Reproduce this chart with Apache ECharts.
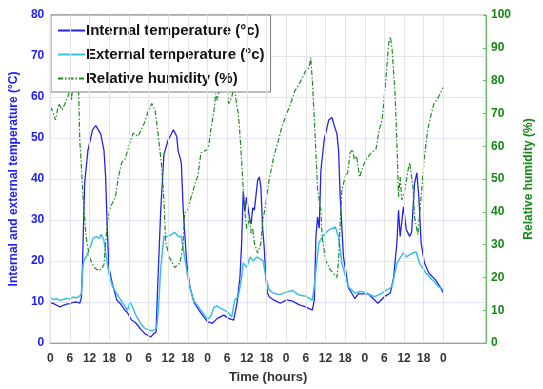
<!DOCTYPE html>
<html>
<head>
<meta charset="utf-8">
<script src="https://cdn.jsdelivr.net/npm/echarts@6/dist/echarts.min.js"></script>
<style>
  html, body { margin: 0; padding: 0; background: #fff; }
  #chart { width: 543px; height: 389px; }
</style>
</head>
<body>
<div id="chart"></div>
<script>
// [hour, value] pairs
var internalTemp = [
  [0, 9.8], [1, 9.6], [2, 9.2], [3, 8.8], [4, 9.2], [5, 9.5], [6, 9.6], [7, 9.9], [8, 10], [9, 9.7],
  [9.5, 11], [9.8, 18], [10.5, 39], [11.5, 47], [12.9, 52], [13.9, 53], [15.4, 51], [16.4, 47],
  [16.9, 40.5], [17.4, 28], [17.9, 18.5], [18.9, 14.6], [20.3, 10.5], [21.5, 9.5], [22.8, 8],
  [23.5, 7.5], [24.8, 5.6], [26, 5], [27.8, 3.2], [29, 2.2], [30.7, 1.5], [31.5, 2.2], [32.3, 2.7],
  [32.7, 12], [33.7, 32], [34.7, 46], [36, 49.5], [37.6, 52], [38.6, 50.4], [39, 47], [40, 44],
  [40.6, 32.4], [41.6, 20], [42.6, 13.7], [44, 9.7], [46, 7.3], [48, 5.2], [49.5, 4.8], [51, 6],
  [53, 6.8], [54.4, 6], [56, 5.6], [57, 9.7], [57.9, 16], [58.4, 24], [58.9, 37], [59.4, 32],
  [59.9, 35.6], [60.9, 30], [61.3, 29], [61.8, 33], [62.3, 32.4], [63.3, 39.7], [63.8, 40.5],
  [64.3, 38], [64.8, 28.3], [65.3, 23.4], [65.8, 16], [66.3, 12.2], [66.8, 11.3], [68.2, 10.5],
  [70.2, 9.7], [72.2, 10.5], [74, 10.2], [76, 9.3], [78, 8.8], [80, 8], [80.6, 10.5], [81.1, 26],
  [81.6, 30.7], [82.1, 28], [82.6, 42], [83.6, 49.5], [85, 54.4], [86, 55], [86.7, 53], [87.5, 51],
  [88, 47], [88.5, 35.6], [89.5, 21], [91, 13.5], [92, 12.2], [93, 10.8], [94, 12], [95, 12],
  [97, 12], [99, 10.5], [100, 9.7], [101, 10.5], [102, 11.3], [103.8, 12.2], [104.8, 16],
  [105.8, 24.4], [106.3, 32.4], [106.8, 26], [107.8, 33.2], [108.7, 27.6], [109.7, 26], [110.3, 27],
  [111.2, 39], [111.9, 41.5], [112.5, 35.6], [113.2, 24.4], [114.2, 19.5], [115.6, 17],
  [117.6, 15.4], [119, 13.7], [120, 12.2]
]
var externalTemp = [
  [0, 11], [1, 10.6], [2, 10.8], [3, 10.4], [4, 10.6], [5, 10.9], [6, 10.7], [7, 11.2], [8, 11],
  [9, 11.5], [9.5, 12], [10, 19], [10.5, 20.5], [11, 21], [11.5, 22], [12.5, 24], [13, 25.5],
  [14, 26], [15, 25.5], [15.5, 26.5], [16.4, 25], [16.9, 22], [17.9, 17], [18.9, 14], [20.3, 12],
  [21.5, 10.5], [22.8, 9], [23.6, 8], [24.3, 10], [25, 9], [26, 7], [27.8, 4.5], [29, 3.5],
  [30.7, 3], [32, 3.2], [32.5, 4], [33, 8], [33.7, 18], [34.7, 26], [36, 26], [38, 27], [39, 26],
  [40, 26], [41, 21], [42, 16], [43.6, 10.5], [46, 8], [48, 5.8], [49, 6.5], [50, 8.8], [51, 9],
  [52, 8.5], [54, 7.6], [55.4, 6.4], [56.3, 10.5], [57.4, 11.3], [58.4, 16], [58.9, 19.5],
  [60, 18.5], [61, 21], [62, 20], [63, 21], [64, 20.5], [65, 20], [65.8, 16], [66.8, 13],
  [68, 12.2], [70, 11.8], [72, 12.4], [74, 12.8], [76, 11.7], [78, 11.4], [80, 10.4], [80.6, 14],
  [81.1, 17.8], [82, 24.4], [83, 25.8], [85, 27.6], [87, 28.3], [88, 26], [89, 19.5], [91, 13.7],
  [93, 12.2], [95, 12.6], [97, 12], [98.9, 11.3], [101, 12], [102.8, 13], [104.3, 13.7],
  [105.8, 19.5], [106.5, 20.4], [107.8, 22], [108.7, 21], [109.7, 21.5], [110.7, 22], [111.7, 22.2],
  [112.7, 19.5], [114.7, 17], [116.6, 15.4], [118.6, 13.7], [120, 13]
]
var humidity = [
  [0, 72], [0.6, 71], [1.6, 68], [2.6, 73], [3.6, 71], [4.5, 73], [5.5, 75.5], [6, 77], [6.5, 74],
  [7, 81], [7.6, 84], [8.2, 83], [8.7, 75.5], [9, 62], [9.5, 54], [10, 44.5], [11, 32], [12, 26],
  [13.4, 23], [14.9, 22], [15.9, 23], [16.4, 24], [16.9, 30.5], [17.4, 36.6], [18.4, 41.5],
  [19.9, 44.5], [20.8, 50.6], [21.8, 55], [22.8, 56], [24.3, 61], [25.3, 64], [26.8, 63],
  [27.8, 65], [28.7, 67], [30, 71], [31, 73], [32, 71], [33, 63], [34, 54], [34.7, 43.6],
  [35.2, 31], [36.4, 26], [37, 25], [38, 23], [39.6, 24.4], [40.6, 30.5], [41, 39.6], [42, 40.5],
  [43, 44.5], [44.5, 49.7], [45, 50.6], [46, 58], [47, 58.5], [48, 59], [48.5, 61], [49, 65],
  [50, 71], [50.5, 76], [51, 74], [51.5, 77], [52.5, 81], [53.5, 80], [54, 77], [54.5, 73],
  [55.4, 75], [56, 78], [56.3, 77], [57, 72], [57.4, 70], [57.8, 65], [58.4, 56], [58.9, 47],
  [59.4, 40], [60, 34.5], [60.8, 38.4], [61.3, 33.5], [61.8, 35], [62.3, 30.5], [63.3, 27.4],
  [64.3, 30.5], [64.8, 36.6], [65.8, 42.7], [66.8, 49.7], [68.2, 56.7], [69.7, 62], [70.7, 66],
  [72.2, 70], [73, 72], [74.7, 77], [75.5, 78], [77, 81], [78, 83], [79, 84], [79.5, 87], [80, 80],
  [81, 60], [81.6, 46.6], [82.6, 40.5], [83, 32.4], [84, 25.3], [85.5, 22.3], [87.5, 20], [88, 25],
  [88.5, 36.6], [89, 46.6], [90, 50.6], [90.8, 52], [91.5, 58], [92.3, 59], [92.8, 56], [93.5, 57],
  [94.4, 50.6], [95.4, 53.7], [96.4, 56], [98, 58], [99.4, 59], [100.4, 65], [101.3, 68],
  [102.3, 79], [103.3, 91.5], [103.8, 93.3], [104.3, 90], [105.3, 75], [106, 55], [106.3, 44.5],
  [106.8, 50.6], [107.3, 43.6], [108.2, 46.6], [109.2, 52.7], [109.7, 55], [110.7, 47.6],
  [111.2, 38.4], [112.2, 33], [113.2, 44.5], [114.2, 56.7], [115.2, 65], [116.1, 69], [117.1, 73],
  [118, 74], [119, 76], [120, 78]
]
var hourTicks = [0, 6, 12, 18, 24, 30, 36, 42, 48, 54, 60, 66, 72, 78, 84, 90, 96, 102, 108, 114, 120]
var seriesNames = ['Internal temperature (°c)', 'External temperature (°c)', 'Relative humidity (%)']

var FONT = 'Liberation Sans, Arial, sans-serif'
var chart = echarts.init(document.getElementById('chart'))

var option = {
  animation: false,
  grid: {
    left: 48, right: 46, top: 15, bottom: 46,
    show: true, borderColor: '#b0b0b0', borderWidth: 1,
  },
  legend: {
    orient: 'vertical',
    left: 51, top: 15,
    data: seriesNames,
    itemWidth: 27, itemHeight: 14, itemGap: 9,
    padding: [8, 6, 6, 6],
    backgroundColor: '#fff',
    borderColor: '#7a7a7a', borderWidth: 1,
    itemStyle: { opacity: 0 },
    textStyle: { fontFamily: FONT, fontSize: 15, fontWeight: 'bold', color: '#111', padding: [0, 0, 0, -4] },
  },
  xAxis: {
    type: 'value',
    min: 0, max: 133, interval: 6,
    name: 'Time (hours)',
    nameLocation: 'middle', nameGap: 28,
    nameTextStyle: { fontFamily: FONT, fontSize: 13, fontWeight: 'bold', color: '#333' },
    axisLine: { lineStyle: { color: '#a0a0a0' } },
    axisTick: { show: false },
    splitLine: { show: false },
    axisLabel: {
      fontFamily: FONT, fontSize: 12, fontWeight: 'bold', color: '#333', margin: 10,
      formatter: function (v) { return v <= 120 ? String(v % 24) : '' },
    },
  },
  yAxis: [
    {
      type: 'value', position: 'left',
      min: 0, max: 80, interval: 10,
      name: 'Internal and external temperature (°C)',
      nameLocation: 'middle', nameGap: 30,
      nameTextStyle: { fontFamily: FONT, fontSize: 12, fontWeight: 'bold', color: '#2020ff' },
      axisLine: { show: true, lineStyle: { color: '#a8a8ff' } },
      axisTick: { show: false },
      splitLine: { show: true, lineStyle: { color: '#e2e2fa' } },
      axisLabel: { fontFamily: FONT, fontSize: 12, fontWeight: 'bold', color: '#2020ff', margin: 6 },
    },
    {
      type: 'value', position: 'right',
      min: 0, max: 100, interval: 10,
      name: 'Relative humidity (%)',
      nameLocation: 'middle', nameGap: 37,
      nameTextStyle: { fontFamily: FONT, fontSize: 12, fontWeight: 'bold', color: '#128a12' },
      axisLine: { show: true, lineStyle: { color: '#66b866' } },
      axisTick: { show: true, inside: true, length: 3, lineStyle: { color: '#66b866' } },
      splitLine: { show: false },
      axisLabel: { fontFamily: FONT, fontSize: 12, fontWeight: 'bold', color: '#128a12', margin: 5 },
    },
  ],
  series: [
    {
      // vertical grid lines only up to 120 h
      name: 'grid', type: 'line', data: [], silent: true, z: 0,
      markLine: {
        silent: true, symbol: 'none', label: { show: false },
        lineStyle: { color: '#e4e4e4', width: 1, type: 'solid' },
        data: hourTicks.map(function (h) { return { xAxis: h } }),
      },
    },
    {
      name: seriesNames[0], type: 'line', yAxisIndex: 0,
      symbol: 'none', data: internalTemp,
      lineStyle: { color: '#2323f0', width: 1.3 },
      itemStyle: { color: '#2323f0' },
    },
    {
      name: seriesNames[1], type: 'line', yAxisIndex: 0,
      symbol: 'none', data: externalTemp,
      lineStyle: { color: '#3cbde8', width: 1.5 },
      itemStyle: { color: '#3cbde8' },
    },
    {
      name: seriesNames[2], type: 'line', yAxisIndex: 1,
      symbol: 'none', data: humidity,
      lineStyle: { color: '#1b8c1b', width: 1.2, type: [5, 2, 1.5, 2] },
      itemStyle: { color: '#1b8c1b' },
    },
  ],
}
chart.setOption(option)
</script>
</body>
</html>
